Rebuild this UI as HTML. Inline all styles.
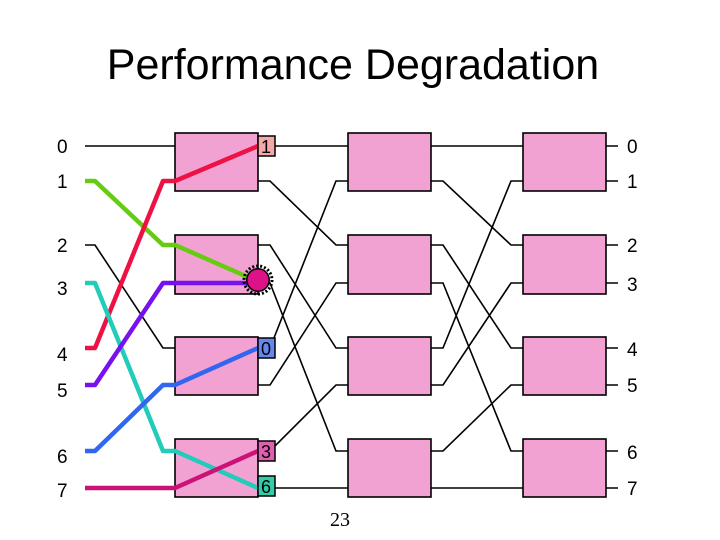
<!DOCTYPE html>
<html><head><style>body{margin:0;background:#fff}svg{display:block}</style></head><body>
<svg width="720" height="540" xmlns="http://www.w3.org/2000/svg" font-family="Liberation Sans, sans-serif">
<text x="353" y="79" font-size="43" text-anchor="middle">Performance Degradation</text>
<g font-size="19" fill="#000">
<text x="57" y="153">0</text><text x="57" y="188">1</text><text x="57" y="252">2</text><text x="57" y="295">3</text>
<text x="57" y="361">4</text><text x="57" y="397">5</text><text x="57" y="463">6</text><text x="57" y="497">7</text>
<text x="627" y="153">0</text><text x="627" y="188">1</text><text x="627" y="252">2</text><text x="627" y="291">3</text>
<text x="627" y="356">4</text><text x="627" y="392">5</text><text x="627" y="459">6</text><text x="627" y="495">7</text>
</g>
<g stroke="#000" stroke-width="1.6" fill="none">
<path d="M85 146H175M85 245H95L163 348H175"/>
<path d="M258 146H348M258 181H270L336 245H348M258 245H270L336 348H348M258 283H270L336 451H348M258 348H270L336 181H348M258 385H270L336 283H348M258 451H270L336 385H348M258 488H348"/>
<path d="M431 146H523M431 181H443L511 245H523M431 245H443L511 348H523M431 283H443L511 451H523M431 348H443L511 181H523M431 385H443L511 283H523M431 451H443L511 385H523M431 488H523"/>
<path d="M606 146H618M606 181H618M606 245H618M606 283H618M606 348H618M606 385H618M606 451H618M606 488H618"/>
</g>
<g fill="#f2a2d2" stroke="#000" stroke-width="1.6">
<rect x="175" y="133" width="83" height="58"/><rect x="175" y="235" width="83" height="59"/><rect x="175" y="337" width="83" height="58"/><rect x="175" y="439" width="83" height="58"/>
<rect x="348" y="133" width="83" height="58"/><rect x="348" y="235" width="83" height="59"/><rect x="348" y="337" width="83" height="58"/><rect x="348" y="439" width="83" height="58"/>
<rect x="523" y="133" width="83" height="58"/><rect x="523" y="235" width="83" height="59"/><rect x="523" y="337" width="83" height="58"/><rect x="523" y="439" width="83" height="58"/>
</g>
<g fill="none" stroke-width="4.5" stroke-linejoin="round">
<path stroke="#66cc11" d="M85 181H95L163 245H175L250 278"/>
<path stroke="#ee1144" d="M85 348H95L163 181H175L258 146"/>
<path stroke="#22ccbb" d="M85 283H95L163 451H175L258 488"/>
<path stroke="#7711ee" d="M85 385H95L163 283H250"/>
<path stroke="#3366ee" d="M85 451H95L163 385H175L258 348"/>
<path stroke="#cc1177" d="M85 488H175L258 451"/>
</g>
<circle cx="258" cy="280" r="14" fill="none" stroke="#000" stroke-width="3" stroke-dasharray="2 2"/>
<circle cx="258" cy="280" r="12" fill="#000"/>
<circle cx="258" cy="280" r="10.5" fill="#dd1188"/>
<g stroke="#000" stroke-width="1.5">
<rect x="258" y="136" width="17" height="20" fill="#f4a8a8"/>
<rect x="258" y="338" width="17" height="20" fill="#6688ee"/>
<rect x="258" y="441" width="17" height="20" fill="#e060b0"/>
<rect x="258" y="476" width="17" height="20" fill="#33ccaa"/>
</g>
<g font-size="18"><text x="261" y="153">1</text><text x="261" y="355">0</text><text x="261" y="458">3</text><text x="261" y="493">6</text></g>
<text x="340" y="526" font-family="Liberation Serif, serif" font-size="20" text-anchor="middle">23</text>
</svg>
</body></html>
